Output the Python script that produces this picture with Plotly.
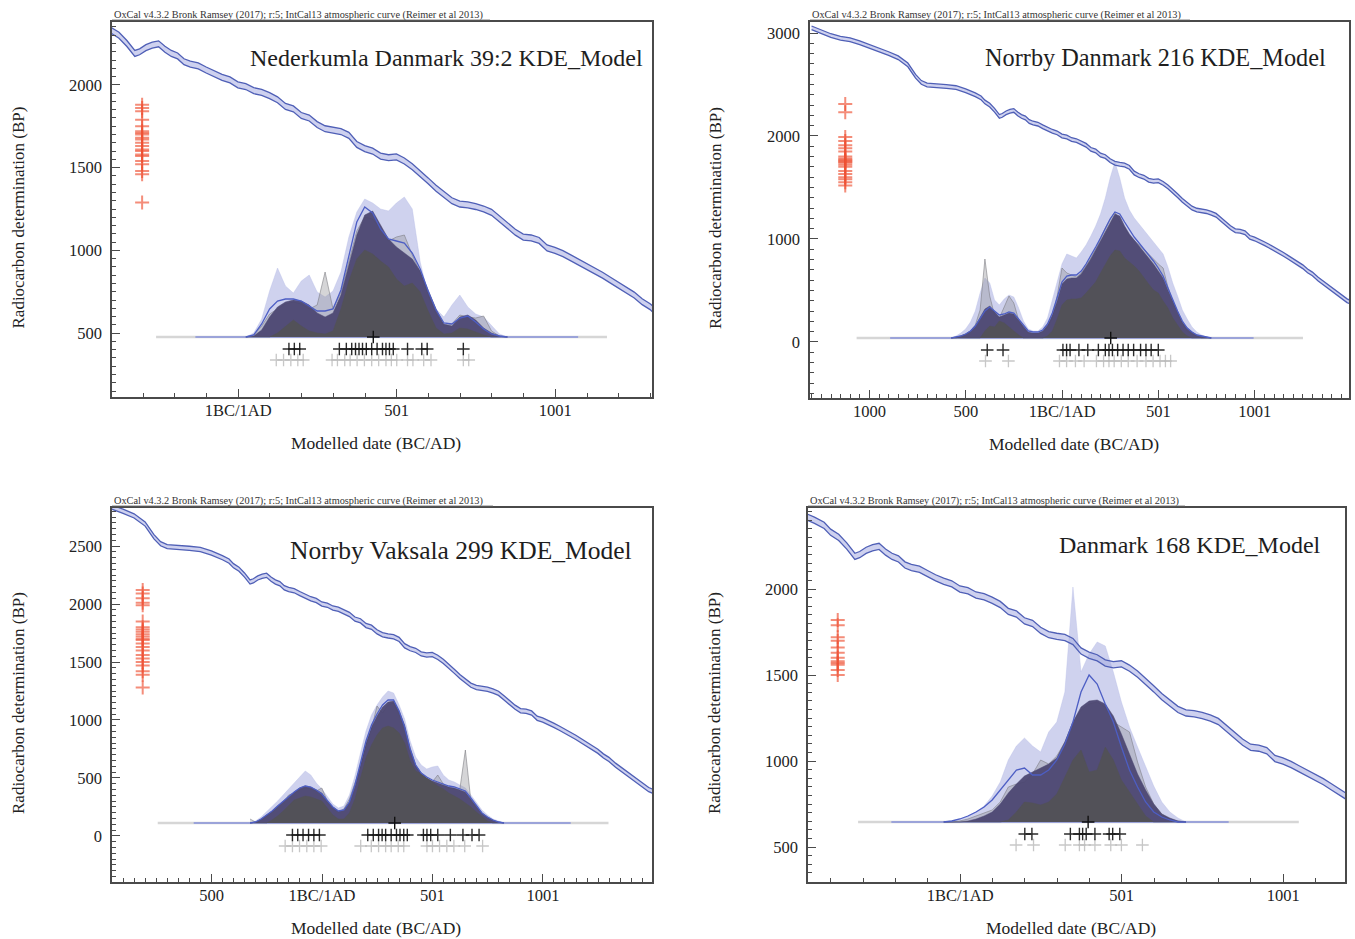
import plotly.graph_objects as go

FONT = "Liberation Serif, Times New Roman, serif"

# ---------------- IntCal13 calibration curve (cal BC/AD -> 14C BP) ----------------
cal_year = [-1300, -1250, -1200, -1150, -1100, -1050, -1000, -950, -900, -850, -800, -760, -730,
            -700, -650, -600, -550, -500, -450, -420, -400, -375, -350, -325, -310, -290, -270,
            -250, -230, -210, -190, -170, -150, -125, -100, -75, -50, -25, 0, 25, 50, 75, 100,
            125, 150, 175, 200, 225, 250, 275, 300, 325, 350, 375, 400, 425, 450, 475, 500, 525,
            550, 575, 600, 625, 650, 675, 700, 725, 750, 775, 800, 825, 850, 875, 900, 925, 950,
            975, 1000, 1025, 1050, 1075, 1100, 1125, 1150, 1175, 1200, 1225, 1250, 1275, 1300,
            1330, 1380, 1430, 1480, 1530]
cal_bp = [3050, 3010, 2975, 2950, 2935, 2905, 2870, 2840, 2800, 2760, 2690, 2580, 2520,
          2495, 2490, 2480, 2470, 2440, 2400, 2370, 2330, 2300, 2250, 2190, 2200, 2225, 2240,
          2248, 2215, 2190, 2175, 2140, 2125, 2115, 2090, 2065, 2045, 2030, 2000, 1990, 1965,
          1955, 1935, 1910, 1870, 1855, 1815, 1800, 1760, 1735, 1725, 1718, 1695, 1640, 1615,
          1600, 1570, 1560, 1565, 1540, 1505, 1465, 1420, 1375, 1340, 1300, 1280, 1275, 1265,
          1250, 1230, 1190, 1150, 1110, 1080, 1075, 1060, 1015, 1000, 980, 955, 930, 905, 880,
          850, 820, 790, 760, 730, 690, 660, 610, 540, 470, 400, 360]
cal_sigma = 18

header = "OxCal v4.3.2 Bronk Ramsey (2017); r:5; IntCal13 atmospheric curve (Reimer et al 2013)"

# ---------------- Panel 1: Nederkumla Danmark 39:2 ----------------
p1_title = "Nederkumla Danmark 39:2 KDE_Model"
p1_years = [25, 50, 75, 100, 125, 150, 175, 200, 225, 250, 275, 300, 325, 350, 375, 400, 425,
            450, 475, 500, 525, 550, 575, 600, 625, 650, 675, 700, 725, 750, 775, 800, 825, 850]
p1_lav = [0, 4, 18, 46, 69, 51, 44, 56, 62, 45, 40, 46, 65, 100, 125, 138, 134, 128, 126, 134,
          140, 128, 75, 42, 28, 20, 32, 42, 30, 23, 20, 11, 3, 0]
p1_sum = [0, 2, 11, 23, 28, 33, 35, 33, 28, 32, 65, 28, 45, 76, 106, 120, 118, 108, 96, 100,
          102, 82, 65, 42, 23, 11, 13, 22, 20, 19, 21, 6, 1, 0]
p1_kde = [0, 1, 7, 20, 30, 35, 37, 36, 32, 24, 20, 24, 42, 72, 102, 122, 126, 112, 98, 90,
          84, 78, 66, 46, 28, 13, 11, 20, 22, 17, 9, 4, 1, 0]
p1_low = [0, 0, 0, 0, 4, 11, 17, 11, 6, 4, 3, 6, 28, 56, 78, 87, 83, 76, 70, 58,
          51, 54, 45, 26, 9, 3, 4, 9, 8, 5, 2, 0, 0, 0]
p1_mean = [0, 2, 13, 28, 36, 38, 38, 36, 31, 26, 26, 28, 47, 82, 115, 130, 124, 108, 98, 96,
           94, 84, 68, 46, 27, 14, 13, 19, 21, 15, 8, 3, 1, 0]
p1_modelled = [161, 178, 195, 320, 342, 359, 371, 382, 393, 405, 422, 439, 456, 467, 478, 490,
               535, 580, 597, 711]
p1_unmodelled = [121, 144, 167, 189, 206, 297, 314, 337, 354, 376, 399, 422, 444, 467, 484, 501,
                 535, 552, 586, 609, 711, 728]
p1_median = 427
p1_red_year = -302
p1_red_bp = [1880, 1860, 1840, 1790, 1750, 1720, 1710, 1700, 1680, 1670, 1650, 1630, 1610, 1600,
             1580, 1570, 1540, 1520, 1480, 1460, 1290]
p1_base_gray = [-258, 1164]
p1_base_blue = [-134, 1073]

# ---------------- Panel 2: Norrby Danmark 216 ----------------
p2_title = "Norrby Danmark 216 KDE_Model"
p2_years = [-575, -550, -525, -500, -475, -450, -425, -400, -375, -350, -325, -300, -275, -250,
            -225, -200, -175, -150, -125, -100, -75, -50, -25, 0, 25, 50, 75, 100, 125, 150, 175,
            200, 225, 250, 275, 300, 325, 350, 375, 400, 425, 450, 475, 500, 525, 550, 575, 600,
            625, 650, 675, 700, 725, 750, 775]
p2_lav = [0, 2, 5, 9, 16, 27, 45, 60, 55, 38, 33, 39, 43, 41, 30, 17, 9, 7, 7, 11, 20, 37, 56,
          74, 84, 82, 80, 86, 93, 102, 112, 124, 140, 160, 176, 160, 140, 128, 120, 114, 108, 101,
          96, 90, 84, 71, 55, 42, 28, 19, 11, 6, 3, 1, 0]
p2_sum = [0, 0, 2, 4, 7, 13, 28, 79, 42, 23, 20, 32, 42, 35, 18, 9, 5, 4, 4, 6, 11, 20, 42, 70,
          65, 63, 61, 65, 72, 80, 89, 100, 110, 119, 126, 116, 110, 102, 97, 93, 89, 84, 78, 74,
          70, 51, 37, 26, 15, 7, 4, 2, 0, 0, 0]
p2_kde = [0, 1, 2, 4, 7, 12, 20, 29, 32, 26, 21, 23, 25, 24, 18, 11, 6, 5, 5, 7, 13, 23, 37, 54,
          59, 60, 60, 64, 71, 79, 88, 97, 106, 116, 124, 122, 112, 104, 98, 92, 86, 81, 74, 67,
          60, 48, 37, 27, 16, 10, 6, 3, 2, 1, 0]
p2_low = [0, 0, 0, 0, 0, 0, 0, 7, 12, 11, 17, 15, 11, 7, 3, 0, 0, 0, 0, 0, 2, 7, 19, 33, 38, 39,
          39, 40, 45, 51, 56, 65, 74, 82, 88, 87, 80, 76, 72, 67, 60, 54, 48, 45, 37, 30, 20, 13,
          6, 2, 0, 0, 0, 0, 0]
p2_mean = [0, 1, 2, 4, 7, 12, 19, 27, 31, 27, 23, 24, 26, 25, 19, 12, 7, 6, 6, 8, 14, 25, 40, 56,
           62, 63, 63, 67, 74, 82, 91, 100, 110, 119, 126, 124, 116, 108, 101, 95, 89, 84, 77, 70,
           62, 50, 38, 27, 17, 10, 6, 3, 2, 1, 0]
p2_modelled = [-388, -306, 5, 24, 42, 88, 134, 189, 225, 244, 262, 289, 317, 344, 372, 408, 436,
               463, 500]
p2_unmodelled = [-397, -278, -13, 24, 70, 115, 179, 216, 244, 271, 308, 344, 390, 436, 473, 509,
                 537, 564]
p2_median = 253
p2_red_year = -1125
p2_red_bp = [2310, 2230, 1990, 1950, 1910, 1880, 1850, 1800, 1780, 1770, 1760, 1750, 1740, 1720,
             1700, 1660, 1630, 1600, 1580, 1550, 1520]
p2_base_gray = [-1066, 1251]
p2_base_blue = [-892, 995]

# ---------------- Panel 3: Norrby Vaksala 299 ----------------
p3_title = "Norrby Vaksala 299 KDE_Model"
p3_years = [-325, -300, -275, -250, -225, -200, -175, -150, -125, -100, -75, -50, -25, 0, 25, 50,
            75, 100, 125, 150, 175, 200, 225, 250, 275, 300, 325, 350, 375, 400, 425, 450, 475,
            500, 525, 550, 575, 600, 625, 650, 675, 700, 725, 750, 775, 800, 825]
p3_lav = [0, 2, 6, 11, 16, 22, 28, 34, 40, 46, 52, 48, 40, 34, 26, 19, 15, 17, 28, 47, 70, 92,
          108, 118, 126, 132, 130, 118, 104, 82, 66, 58, 54, 56, 57, 48, 43, 41, 38, 35, 28, 20,
          13, 8, 4, 2, 0]
p3_sum = [4, 1, 3, 7, 11, 16, 21, 28, 30, 33, 35, 34, 32, 35, 22, 15, 11, 14, 24, 40, 56, 78,
          94, 117, 110, 118, 120, 108, 95, 72, 56, 48, 44, 41, 48, 39, 35, 34, 34, 73, 22, 16, 9,
          5, 2, 1, 0]
p3_kde = [0, 1, 4, 8, 12, 17, 22, 27, 31, 35, 37, 36, 33, 30, 22, 16, 12, 13, 21, 37, 58, 80, 96,
          107, 116, 121, 122, 112, 98, 75, 58, 50, 45, 42, 40, 38, 36, 35, 33, 31, 24, 17, 10, 6,
          3, 1, 0]
p3_low = [0, 0, 0, 0, 3, 7, 12, 18, 23, 25, 27, 26, 24, 22, 15, 8, 4, 4, 10, 24, 45, 65, 78, 88,
          95, 97, 95, 90, 80, 62, 52, 49, 45, 41, 37, 34, 30, 27, 24, 20, 16, 11, 6, 2, 0, 0, 0]
p3_mean = [0, 1, 4, 8, 12, 17, 22, 27, 31, 35, 37, 36, 33, 29, 22, 16, 12, 13, 21, 38, 60, 82,
           98, 109, 118, 123, 123, 112, 96, 74, 58, 50, 46, 43, 41, 39, 37, 36, 34, 32, 25, 17,
           10, 6, 3, 1, 0]
p3_modelled = [-133, -109, -85, -60, -36, -11, 208, 233, 257, 273, 289, 314, 338, 354, 371, 387,
               460, 476, 493, 525, 582, 639, 680, 712]
p3_unmodelled = [-166, -133, -101, -68, -36, -3, 176, 224, 257, 289, 314, 346, 371, 476, 501, 533,
                 566, 598, 647, 728]
p3_median = 330
p3_red_year = -811
p3_red_bp = [2120, 2090, 2050, 2010, 1990, 1850, 1800, 1780, 1760, 1740, 1720, 1700, 1690, 1660,
             1630, 1600, 1560, 1530, 1500, 1470, 1420, 1390, 1280]
p3_base_gray = [-743, 1298]
p3_base_blue = [-580, 1127]

# ---------------- Panel 4: Danmark 168 ----------------
p4_title = "Danmark 168 KDE_Model"
p4_years = [-50, -25, 0, 25, 50, 75, 100, 125, 150, 175, 200, 225, 250, 275, 300, 325, 350, 375,
            400, 425, 450, 475, 500, 525, 550, 575, 600, 625, 650, 675, 700]
p4_lav = [0, 1, 3, 6, 10, 16, 26, 40, 62, 76, 84, 76, 70, 90, 100, 130, 235, 150, 168, 180, 176,
          150, 120, 95, 75, 55, 36, 20, 10, 4, 0]
p4_sum = [0, 0, 1, 3, 6, 9, 12, 20, 35, 38, 40, 48, 62, 58, 66, 80, 100, 112, 118, 120, 115, 100,
          95, 90, 60, 35, 18, 8, 3, 1, 0]
p4_kde = [0, 0, 0, 1, 3, 6, 10, 18, 29, 38, 46, 50, 54, 58, 64, 80, 100, 115, 121, 122, 118, 106,
          88, 68, 48, 32, 18, 8, 4, 1, 0]
p4_low = [0, 0, 0, 0, 0, 0, 0, 0, 2, 10, 20, 19, 17, 20, 28, 45, 62, 72, 50, 52, 75, 62, 42, 30,
          18, 6, 0, 0, 0, 0, 0]
p4_mean = [0, 1, 3, 6, 10, 15, 22, 32, 42, 52, 54, 47, 47, 52, 62, 78, 100, 130, 147, 138, 118,
           100, 75, 52, 35, 20, 10, 5, 2, 0, 0]
p4_modelled = [201, 223, 342, 370, 380, 391, 418, 462, 473, 495]
p4_unmodelled = [174, 228, 326, 370, 386, 418, 467, 500, 565]
p4_median = 397
p4_red_year = -378
p4_red_bp = [1820, 1790, 1720, 1700, 1660, 1630, 1600, 1580, 1570, 1560, 1530, 1500]
p4_base_gray = [-315, 1049]
p4_base_blue = [-212, 832]

# ---------------- axis / layout settings ----------------
W, H = 1355, 939
# pixel boxes: left, right, top, bottom, baseline(y px)
boxes = {1: (112, 652, 22, 397, 337), 2: (810, 1349, 22, 398, 338),
         3: (112, 652, 508, 882, 823), 4: (808, 1345, 508, 882, 822)}
x_ranges = {1: [-397, 1306], 2: [-1308, 1490], 3: [-950, 1495], 4: [-470, 1192]}
bp_ranges = {1: [114, 2380], 2: [-545, 3107], 3: [-397, 2828], 4: [297, 2471]}
x_ticks = {1: ([1, 501, 1001], ["1BC/1AD", "501", "1001"]),
           2: ([-999, -499, 1, 501, 1001], ["1000", "500", "1BC/1AD", "501", "1001"]),
           3: ([-499, 1, 501, 1001], ["500", "1BC/1AD", "501", "1001"]),
           4: ([1, 501, 1001], ["1BC/1AD", "501", "1001"])}
x_minor = {1: 100, 2: 50, 3: 50, 4: 100}
y_dtick = {1: 500, 2: 1000, 3: 500, 4: 500}
y_minor = {1: 50, 2: 100, 3: 50, 4: 50}
title_size = {1: 24, 2: 24.3, 3: 25.5, 4: 24}
title_pos = {1: (645, 58), 2: (1328, 58), 3: (634, 550), 4: (1323, 545)}
header_len = {1: 378, 2: 380, 3: 381, 4: 377}

CAL_LINE = "#4f5fb6"
CAL_FILL = "rgba(165,172,225,0.55)"

fig = go.Figure()


def add_panel(n, title, years, lav, summ, kde, low, mean, modelled, unmodelled, median,
              red_year, red_bp, base_gray, base_blue):
    xa = "x" if n == 1 else f"x{n}"
    yd = "y" if n == 1 else f"y{n}"      # density axis (base)
    yb = f"y{n + 4}"                      # radiocarbon BP axis (overlay)
    kw = dict(xaxis=xa, yaxis=yd, hoverinfo="skip", showlegend=False)
    # baselines
    fig.add_trace(go.Scatter(x=base_gray, y=[0, 0], mode="lines",
                             line=dict(color="rgba(214,214,214,1)", width=2.5), **kw))
    fig.add_trace(go.Scatter(x=base_blue, y=[0, 0], mode="lines",
                             line=dict(color="rgba(140,150,218,0.8)", width=2), **kw))
    # distributions
    fig.add_trace(go.Scatter(x=years, y=lav, mode="lines", fill="tozeroy",
                             fillcolor="rgba(178,183,228,0.62)",
                             line=dict(color="rgba(178,183,228,0.7)", width=0.5), **kw))
    fig.add_trace(go.Scatter(x=years, y=summ, mode="lines", fill="tozeroy",
                             fillcolor="rgba(150,150,155,0.40)",
                             line=dict(color="rgba(120,120,125,0.7)", width=0.8), **kw))
    fig.add_trace(go.Scatter(x=years, y=kde, mode="lines", fill="tozeroy",
                             fillcolor="rgba(74,69,112,0.93)",
                             line=dict(color="rgba(74,69,112,0.93)", width=0.5), **kw))
    fig.add_trace(go.Scatter(x=years, y=low, mode="lines", fill="tozeroy",
                             fillcolor="rgba(82,82,84,0.88)",
                             line=dict(color="rgba(82,82,84,0.88)", width=0.5), **kw))
    fig.add_trace(go.Scatter(x=years, y=mean, mode="lines",
                             line=dict(color="#4d5ec4", width=1.3), **kw))
    # date markers
    fig.add_trace(go.Scatter(x=unmodelled, y=[-23] * len(unmodelled), mode="markers",
                             marker=dict(symbol="cross-thin", size=9,
                                         line=dict(color="rgba(185,185,185,0.8)", width=1.3)), **kw))
    fig.add_trace(go.Scatter(x=modelled, y=[-12] * len(modelled), mode="markers",
                             marker=dict(symbol="cross-thin", size=9,
                                         line=dict(color="rgba(20,20,20,0.9)", width=1.4)), **kw))
    fig.add_trace(go.Scatter(x=[median], y=[0], mode="markers",
                             marker=dict(symbol="cross-thin", size=9,
                                         line=dict(color="#111", width=1.4)), **kw))
    # calibration curve (on BP axis)
    kb = dict(xaxis=xa, yaxis=yb, hoverinfo="skip", showlegend=False)
    lo = [b - cal_sigma for b in cal_bp]
    hi = [b + cal_sigma for b in cal_bp]
    fig.add_trace(go.Scatter(x=cal_year, y=lo, mode="lines",
                             line=dict(color=CAL_LINE, width=1.3), **kb))
    fig.add_trace(go.Scatter(x=cal_year, y=hi, mode="lines", fill="tonexty", fillcolor=CAL_FILL,
                             line=dict(color=CAL_LINE, width=1.3), **kb))
    # radiocarbon determinations
    fig.add_trace(go.Scatter(x=[red_year] * len(red_bp), y=red_bp, mode="markers",
                             marker=dict(symbol="cross-thin", size=10,
                                         line=dict(color="rgba(238,80,50,0.65)", width=2)), **kb))

    l, r, t, b, base = boxes[n]
    xdom = [l / W, r / W]
    ydom = [1 - b / H, 1 - t / H]
    lo_d = -(b - base)
    hi_d = base - t
    tv, tt = x_ticks[n]
    axis_common = dict(showgrid=False, zeroline=False, showline=True, linecolor="#4a4a4a",
                       linewidth=1.5, mirror=True, ticks="inside", ticklen=8, tickcolor="#4a4a4a",
                       tickwidth=1.2, tickfont=dict(family=FONT, size=16.5, color="#222"))
    fig.layout[f"xaxis{'' if n == 1 else n}"] = dict(
        domain=xdom, range=x_ranges[n], anchor=yd, tickmode="array", tickvals=tv, ticktext=tt,
        ticklabelstandoff=-3,
        minor=dict(tick0=1, dtick=x_minor[n], ticks="inside", ticklen=4, tickcolor="#4a4a4a",
                   showgrid=False), **axis_common)
    fig.layout[f"yaxis{'' if n == 1 else n}"] = dict(
        domain=ydom, range=[lo_d, hi_d], anchor=xa, visible=False, showgrid=False, zeroline=False)
    fig.layout[f"yaxis{n + 4}"] = dict(
        overlaying=yd, anchor=xa, side="left", range=bp_ranges[n], tick0=0, dtick=y_dtick[n],
        ticklabelstandoff=5,
        minor=dict(tick0=0, dtick=y_minor[n], ticks="inside", ticklen=4, tickcolor="#4a4a4a",
                   showgrid=False), **axis_common)

    # annotations
    tx, ty = title_pos[n]
    fig.add_annotation(x=tx / W, y=1 - ty / H, xref="paper", yref="paper",
                       text=title, showarrow=False, xanchor="right", yanchor="middle",
                       font=dict(family=FONT, size=title_size[n], color="#1e1e1e"))
    fig.add_annotation(x=l / W, y=1 - (t - 7) / H, xref="paper", yref="paper",
                       text=header, showarrow=False, xanchor="left", yanchor="middle",
                       font=dict(family=FONT, size=10.3, color="#333"))
    fig.add_shape(type="line", xref="paper", yref="paper", x0=l / W, x1=(l + header_len[n]) / W,
                  y0=1 - (t - 2) / H, y1=1 - (t - 2) / H, line=dict(color="#666", width=0.8))
    fig.add_annotation(x=(l - 94) / W, y=1 - ((t + b) / 2 + 8) / H, xref="paper", yref="paper",
                       text="Radiocarbon determination (BP)", textangle=-90, showarrow=False,
                       xanchor="center", yanchor="middle",
                       font=dict(family=FONT, size=17, color="#222"))
    fig.add_annotation(x=((l + r) / 2 - 6) / W, y=1 - (b + 46) / H, xref="paper", yref="paper",
                       text="Modelled date (BC/AD)", showarrow=False, xanchor="center",
                       yanchor="middle", font=dict(family=FONT, size=17.5, color="#222"))


add_panel(1, p1_title, p1_years, p1_lav, p1_sum, p1_kde, p1_low, p1_mean, p1_modelled,
          p1_unmodelled, p1_median, p1_red_year, p1_red_bp, p1_base_gray, p1_base_blue)
add_panel(2, p2_title, p2_years, p2_lav, p2_sum, p2_kde, p2_low, p2_mean, p2_modelled,
          p2_unmodelled, p2_median, p2_red_year, p2_red_bp, p2_base_gray, p2_base_blue)
add_panel(3, p3_title, p3_years, p3_lav, p3_sum, p3_kde, p3_low, p3_mean, p3_modelled,
          p3_unmodelled, p3_median, p3_red_year, p3_red_bp, p3_base_gray, p3_base_blue)
add_panel(4, p4_title, p4_years, p4_lav, p4_sum, p4_kde, p4_low, p4_mean, p4_modelled,
          p4_unmodelled, p4_median, p4_red_year, p4_red_bp, p4_base_gray, p4_base_blue)

fig.update_layout(width=W, height=H, margin=dict(l=0, r=0, t=0, b=0),
                  paper_bgcolor="white", plot_bgcolor="white", showlegend=False)

fig.write_html("out.html")
